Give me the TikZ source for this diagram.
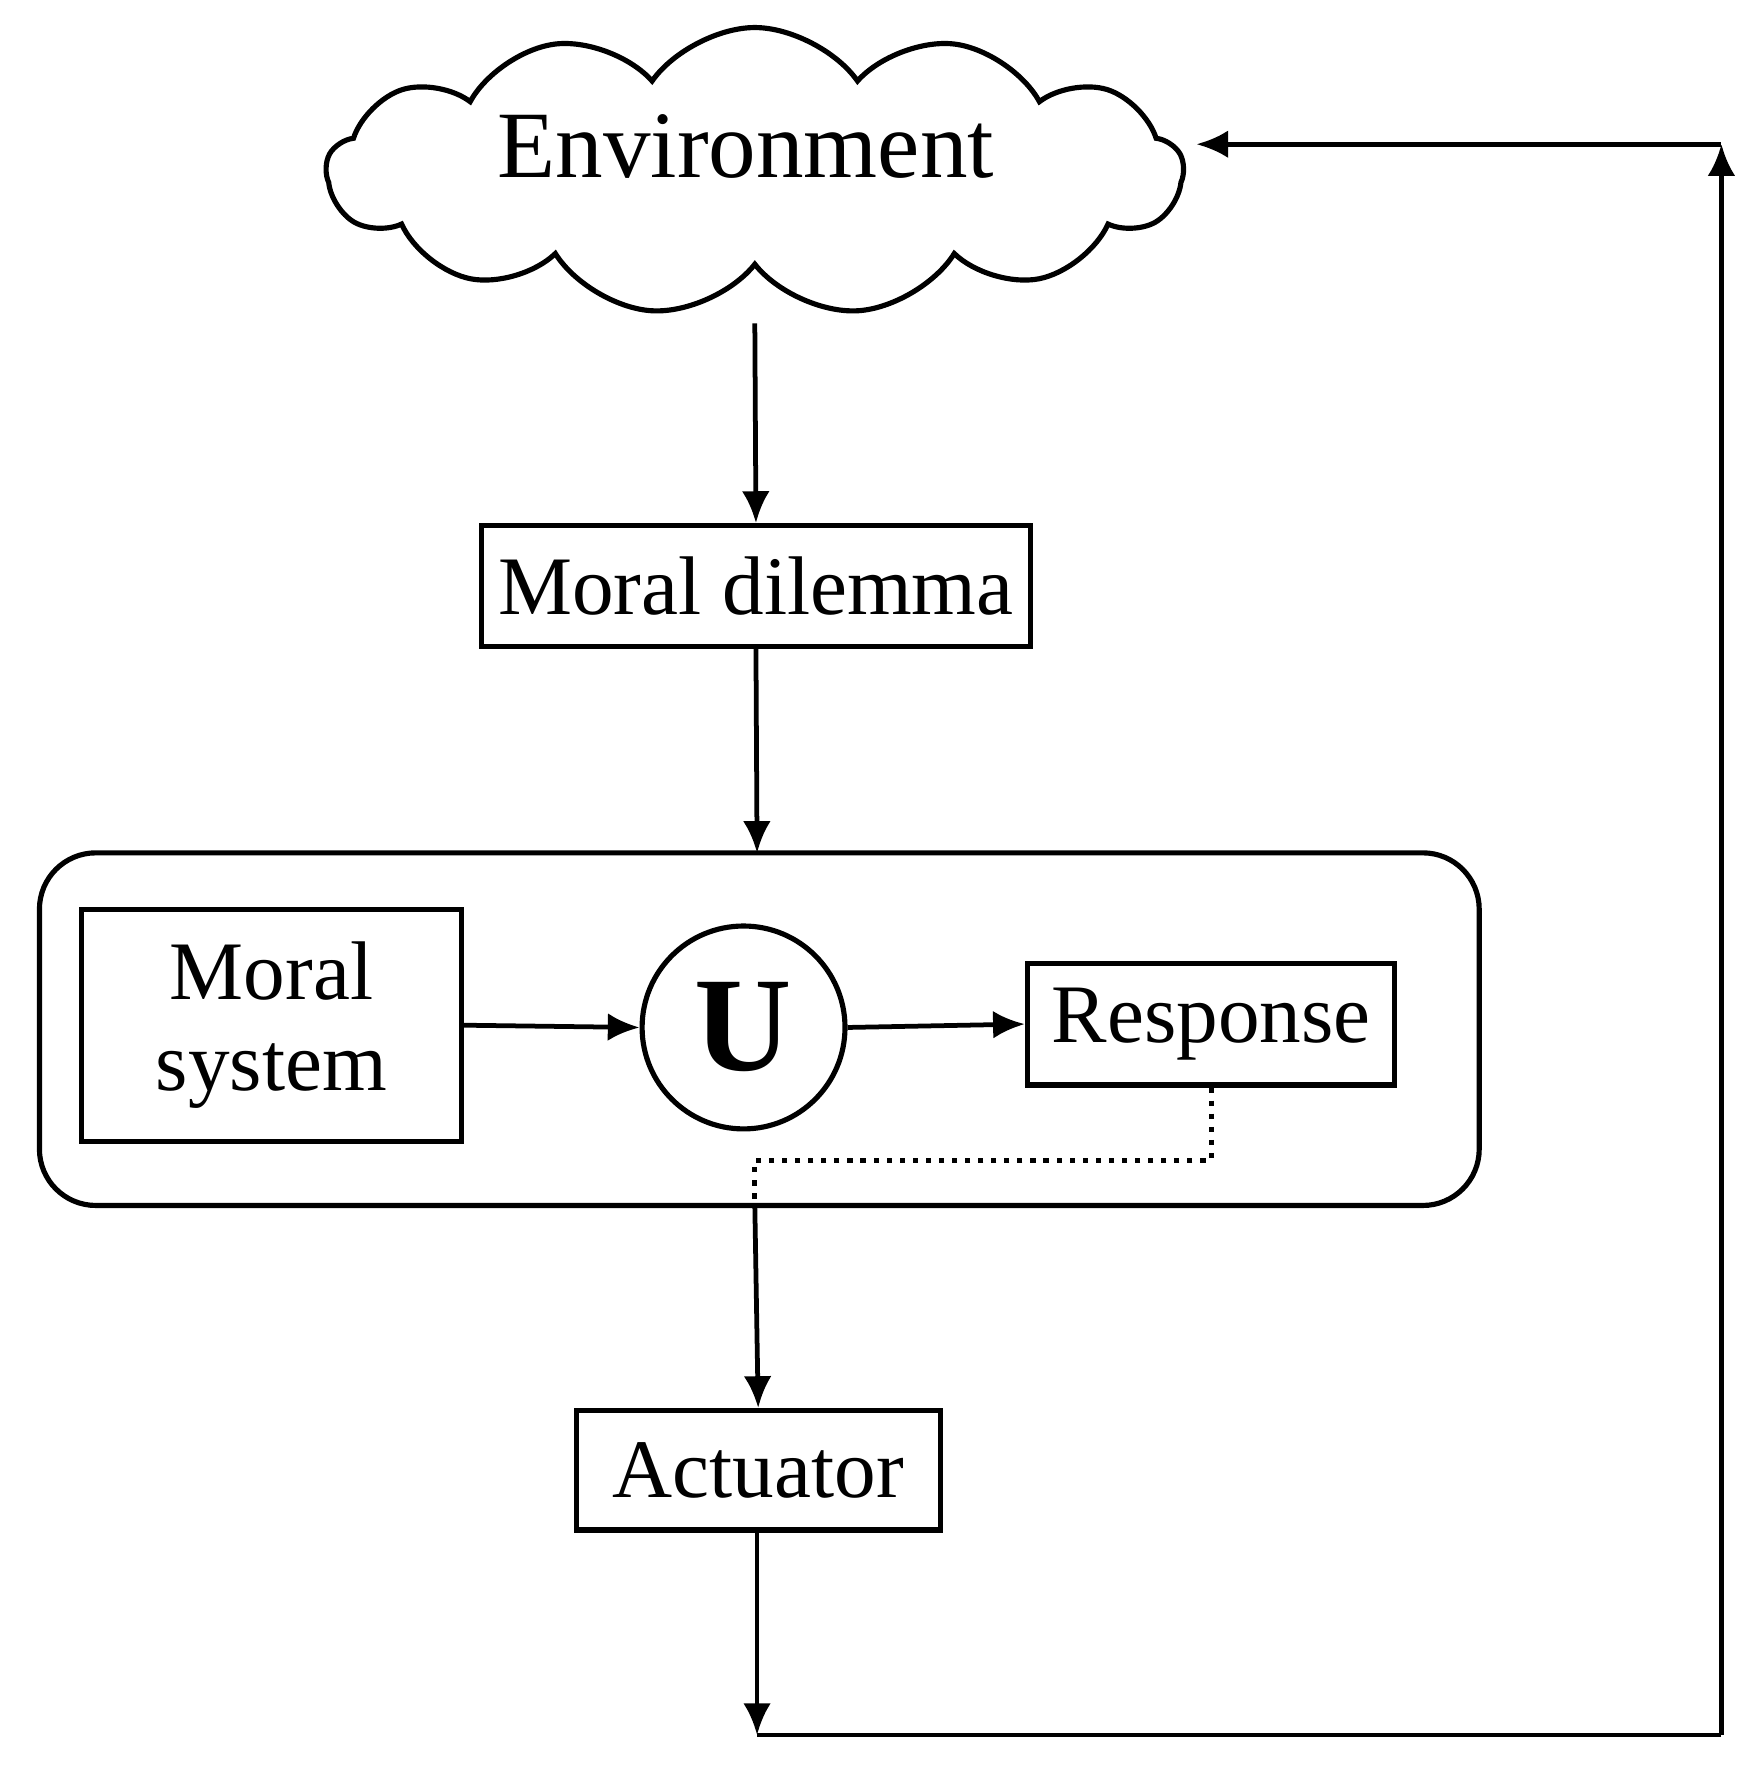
\documentclass[tikz,border=0pt]{standalone}
\usepackage{fontspec}
\setmainfont{Liberation Serif}
\usetikzlibrary{shapes.symbols,arrows.meta}
\begin{document}
\begin{tikzpicture}[x=0.01cm,y=-0.01cm,
  box/.style={draw,line width=1.3pt,inner sep=0pt,font=\fontsize{21}{24}\selectfont},
  arr/.style={line width=1.2pt,-{Latex[length=8pt,width=7pt]}},
  ln/.style={line width=1.2pt}]
\useasboundingbox (0,0) rectangle (1560,1572);
\node[draw,line width=1.3pt,cloud,cloud puffs=13,cloud puff arc=110,aspect=3,minimum width=760\pgflinewidth,inner sep=0pt,minimum width=7.6cm,minimum height=2.55cm] (env) at (670,152) {};
\node[font=\fontsize{24}{28}\selectfont] (envt) at (662,130) {Environment};
\draw[line width=1.3pt,rounded corners=0.5cm] (35,757) rectangle (1313,1070);
\coordinate (bt) at (672,757);
\coordinate (bb) at (670,1070);
\node[box,minimum width=4.87cm,minimum height=1.07cm] (md) at (671,520) {Moral dilemma};
\node[box,minimum width=3.37cm,minimum height=2.06cm,align=center,font=\fontsize{21}{23}\selectfont] (ms) at (241,910) {Moral\\system};
\node[draw,circle,line width=1.3pt,minimum size=1.8cm,inner sep=0pt,font=\fontsize{34}{36}\selectfont\bfseries] (u) at (660,912) {U};
\node[box,minimum width=3.26cm,minimum height=1.08cm] (resp) at (1075,909) {Response};
\node[box,minimum width=3.23cm,minimum height=1.06cm] (act) at (673,1305) {Actuator};
\coordinate (c1) at (672,1540);
\coordinate (c2) at (1528,1540);
\coordinate (c3) at (1528,128);
\coordinate (c4) at (1062,128);
\draw[arr] (670,287) -- (md.north);
\draw[arr] (md.south) -- (bt);
\draw[arr] (ms.east |- 0,910) -- (u.west);
\draw[arr] (u.east) -- (resp.west);
\draw[line width=1.3pt,dotted] (resp.south) -- (1075,1030) -- (670,1030) -- (bb);
\draw[arr] (bb) -- (act.north);
\draw[arr] (act.south -| c1) -- (c1);
\draw[ln] (c1) -- (c2);
\draw[arr] (c2) -- (c3);
\draw[arr] (c3) -- (c4);
\end{tikzpicture}
\end{document}
